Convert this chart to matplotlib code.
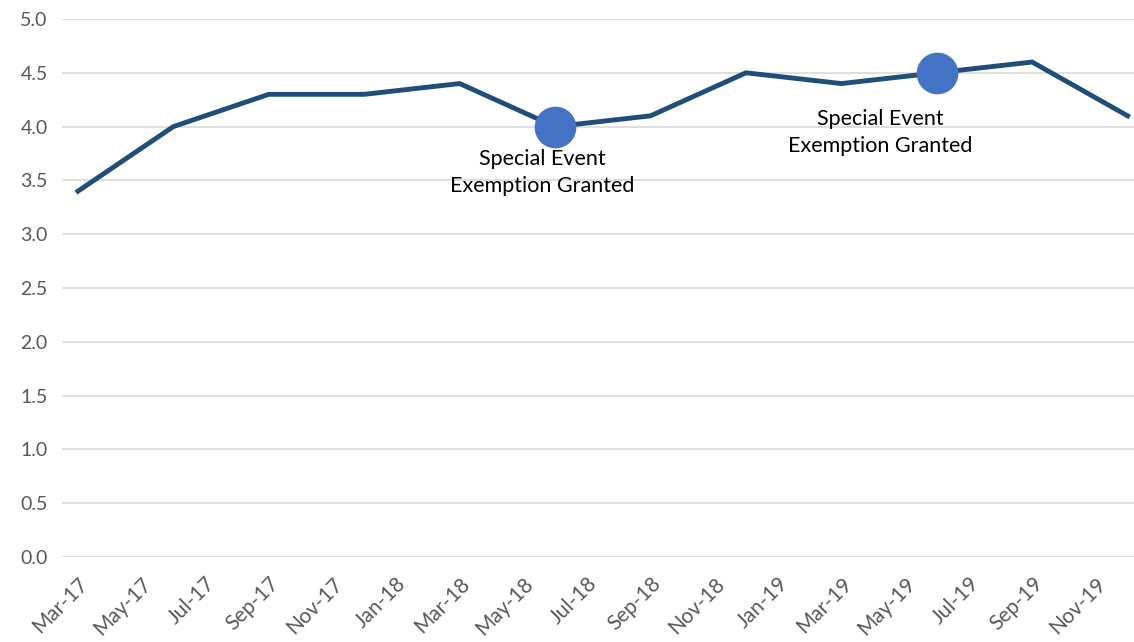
import numpy as np
import matplotlib
matplotlib.use("Agg")
import matplotlib.pyplot as plt

plt.rcParams['font.family'] = ['Lato', 'DejaVu Sans']

# quarterly points, x = months since Mar-17
months = [0, 3, 6, 9, 12, 15, 18, 21, 24, 27, 30, 33]
values = [3.4, 4.0, 4.3, 4.3, 4.4, 4.0, 4.1, 4.5, 4.4, 4.5, 4.6, 4.1]

tick_months = list(range(0, 33, 2))
tick_labels = ['Mar-17', 'May-17', 'Jul-17', 'Sep-17', 'Nov-17', 'Jan-18',
               'Mar-18', 'May-18', 'Jul-18', 'Sep-18', 'Nov-18', 'Jan-19',
               'Mar-19', 'May-19', 'Jul-19', 'Sep-19', 'Nov-19']

event_months = [15, 27]
event_values = [4.0, 4.5]
event_text = 'Special Event\nExemption Granted'
event_offsets = [(-9, -33), (-41, -43)]

fig = plt.figure(figsize=(11.34, 6.42), dpi=100)
ax = fig.add_axes([0.0547, 0.1324, 0.9453, 0.838])

ax.plot(months, values, color='#1F4E79', lw=3.5, solid_joinstyle='miter', zorder=3)
ax.plot(event_months, event_values, 'o', color='#4472C4', ms=29, zorder=4)

for m, v, off in zip(event_months, event_values, event_offsets):
    ax.annotate(event_text, (m, v), xytext=off, textcoords='offset points',
                ha='center', va='center', fontsize=15.5, color='black',
                linespacing=1.45, zorder=5)

ax.set_xlim(-0.5, 33.2)
ax.set_ylim(0, 5)
ax.set_yticks(np.arange(0, 5.01, 0.5))
ax.yaxis.set_major_formatter(matplotlib.ticker.FormatStrFormatter('%.1f'))
ax.set_xticks(tick_months)
ax.set_xticklabels(tick_labels, rotation=45, ha='right', rotation_mode='anchor')

ax.grid(axis='y', color='#D9D9D9', lw=1.2)
ax.set_axisbelow(True)
for s in ax.spines.values():
    s.set_visible(False)
ax.tick_params(length=0, labelsize=14, colors='#595959')
ax.tick_params(axis='x', labelsize=15, pad=12)
ax.tick_params(axis='y', pad=30)
for lab in ax.get_yticklabels():
    lab.set_ha('left')

fig.savefig('out.png', dpi=100)
